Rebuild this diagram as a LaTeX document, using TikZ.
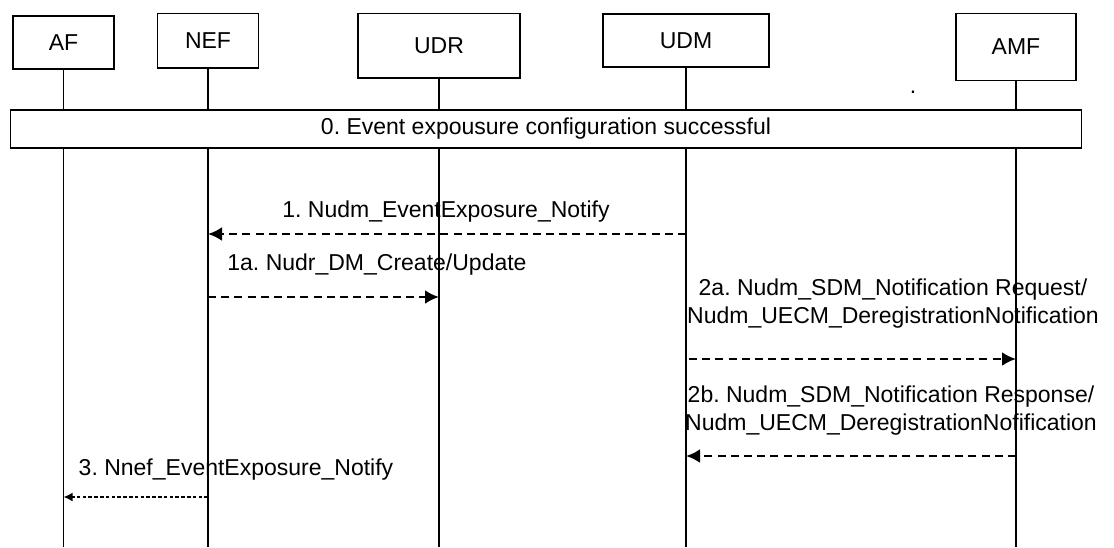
\documentclass[tikz,border=0pt]{standalone}
\usepackage{fontspec}
\setmainfont{Liberation Sans}
\usetikzlibrary{arrows.meta}

\tikzset{
  entity/.style={draw,line width=0.6pt,minimum height=#1,inner sep=0pt},
  lifeline/.style={line width=0.6pt},
  msg/.style={line width=1.3pt,dash pattern=on 4pt off 2.6pt,-{Latex[length=7pt,width=7pt]}},
  msgsmall/.style={line width=1pt,dash pattern=on 1.8pt off 1.1pt,-{Latex[length=4.5pt,width=4.5pt]}},
  lbl/.style={font=\fontsize{11.5}{14}\selectfont,inner sep=0pt,align=center}
}

\begin{document}
\frenchspacing
\begin{tikzpicture}[x=0.5pt,y=-0.5pt,font=\fontsize{11.5}{14}\selectfont]
\useasboundingbox (0,0) rectangle (1114,547);
% entities
\node[entity=26.5pt,minimum width=50.5pt] (af) at (63.5,42.5) {AF};
\node[entity=27.2pt,minimum width=50.7pt] (nef) at (208,40.8) {NEF};
\node[entity=32.2pt,minimum width=81pt] (udr) at (439,45.8) {UDR};
\node[entity=26.5pt,minimum width=83pt] (udm) at (686,40.5) {UDM};
\node[entity=33.6pt,minimum width=60pt] (amf) at (1016,47) {AMF};
\node[inner sep=0pt] (dot) at (913,92) {.};
% lifelines
\coordinate (bottom) at (0,547);
\foreach \e in {af,nef,udr,udm,amf}
  \draw[lifeline] (\e.south) -- (\e |- bottom);
% step 0
\node[draw,fill=white,line width=0.6pt,minimum width=535.5pt,minimum height=19pt,inner sep=0pt]
  (conf) at (546,129) {0. Event expousure configuration successful};
% messages
\coordinate (y1) at (0,234);
\coordinate (y1a) at (0,297);
\coordinate (y2a) at (0,359);
\coordinate (y2b) at (0,456);
\coordinate (y3) at (0,497);
\draw[msg] (udm |- y1) -- (nef |- y1);
\node[lbl] (l1) at (446,212) {1. Nudm\_EventExposure\_Notify};
\draw[msg] (nef |- y1a) -- (udr |- y1a);
\node[lbl] (l1a) at (377,265) {1a. Nudr\_DM\_Create/Update};
\draw[msg] ([xshift=1.5pt]udm |- y2a) -- (amf |- y2a);
\node[lbl] (l2a) at (893,304) {2a. Nudm\_SDM\_Notification Request/\\Nudm\_UECM\_DeregistrationNotification};
\draw[msg] (amf |- y2b) -- (udm |- y2b);
\node[lbl] (l2b) at (891,411) {2b. Nudm\_SDM\_Notification Response/\\Nudm\_UECM\_DeregistrationNofification};
\draw[msgsmall] (nef |- y3) -- (af |- y3);
\node[lbl] (l3) at (236,470) {3. Nnef\_EventExposure\_Notify};
\end{tikzpicture}
\end{document}
